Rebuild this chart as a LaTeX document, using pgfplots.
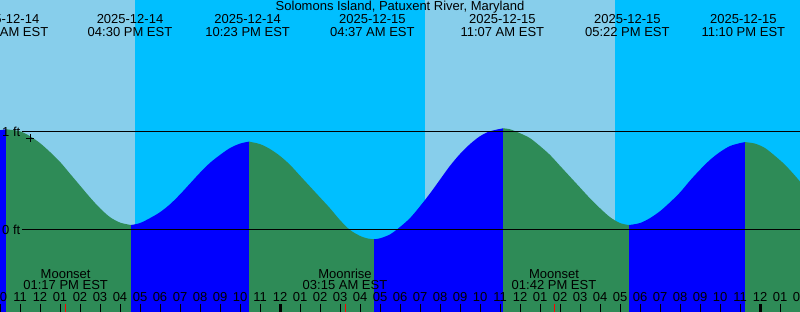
\documentclass[border=0pt]{standalone}
\usepackage{pgfplots}
\pgfplotsset{compat=1.18}
\usepackage{fontspec}
\setmainfont{Liberation Sans}
\definecolor{daysky}{RGB}{135,206,235}
\definecolor{nightsky}{RGB}{0,191,255}
\definecolor{ebb}{RGB}{46,139,87}
\definecolor{flood}{RGB}{0,0,255}
\newcommand\lbl{\fontsize{13}{15}\selectfont}
\begin{document}
\begin{tikzpicture}[font=\lbl]
\begin{axis}[
  at={(0,0)}, anchor=south west,
  width=800pt, height=312pt, scale only axis,
  xmin=10, xmax=50, ymin=-0.831, ymax=2.330,
  axis line style={draw=none},
  ytick=\empty,
  xtick={10,...,50},
  xticklabels={10,11,12,01,02,03,04,05,06,07,08,09,10,11,12,01,02,03,04,05,06,07,08,09,10,11,12,01,02,03,04,05,06,07,08,09,10,11,12,01,02},
  xtick pos=left,
  tick align=inside,
  major tick length=8pt,
  tick style={black, line width=1pt},
  xticklabel style={anchor=base, yshift=10.3pt, font=\lbl, inner sep=0pt},
  extra x ticks={24,48},
  extra x tick labels={},
  extra x tick style={tick style={black, line width=3pt}},
  axis on top,
  clip=false,
]
% sky: day / night (hours since 2025-12-14 00:00 EST)
\addplot[fill=daysky, draw=none] coordinates {(10,-0.831) (16.75,-0.831) (16.75,2.33) (10,2.33)} -- cycle;
\addplot[fill=nightsky, draw=none] coordinates {(16.75,-0.831) (31.25,-0.831) (31.25,2.33) (16.75,2.33)} -- cycle;
\addplot[fill=daysky, draw=none] coordinates {(31.25,-0.831) (40.75,-0.831) (40.75,2.33) (31.25,2.33)} -- cycle;
\addplot[fill=nightsky, draw=none] coordinates {(40.75,-0.831) (50,-0.831) (50,2.33) (40.75,2.33)} -- cycle;
% water level (ft): rising = blue, falling = green
\addplot[fill=flood, draw=none] coordinates {(10,1.01) (10.3,1.02)} -- (axis cs:10.3,-0.831) -- (axis cs:10,-0.831) -- cycle;
\addplot[fill=ebb, draw=none, smooth] coordinates {
(10.3,1.02) (11,1.00) (11.5,0.95) (12,0.88) (12.5,0.79) (13,0.69) (13.5,0.57) (14,0.45)
(14.5,0.33) (15,0.22) (15.5,0.13) (16,0.075) (16.55,0.05)}
 -- (axis cs:16.55,-0.831) -- (axis cs:10.3,-0.831) -- cycle;
\addplot[fill=flood, draw=none, smooth] coordinates {
(16.55,0.05) (17,0.07) (17.5,0.12) (18,0.18) (18.5,0.26) (19,0.36) (19.5,0.47) (20,0.58)
(20.5,0.68) (21,0.76) (21.5,0.83) (22,0.875) (22.45,0.895)}
 -- (axis cs:22.45,-0.831) -- (axis cs:16.55,-0.831) -- cycle;
\addplot[fill=ebb, draw=none, smooth] coordinates {
(22.45,0.895) (23,0.87) (23.5,0.82) (24,0.75) (24.5,0.66) (25,0.55) (25.5,0.44) (26,0.33)
(26.5,0.22) (27,0.10) (27.5,0.0) (28,-0.06) (28.35,-0.085) (28.7,-0.094)}
 -- (axis cs:28.7,-0.831) -- (axis cs:22.45,-0.831) -- cycle;
\addplot[fill=flood, draw=none, smooth] coordinates {
(28.7,-0.094) (29,-0.085) (29.5,-0.045) (30,0.03) (30.5,0.12) (31,0.24) (31.5,0.37) (32,0.51)
(32.5,0.65) (33,0.77) (33.5,0.87) (34,0.95) (34.5,1.00) (35.15,1.03)}
 -- (axis cs:35.15,-0.831) -- (axis cs:28.7,-0.831) -- cycle;
\addplot[fill=ebb, draw=none, smooth] coordinates {
(35.15,1.03) (35.5,1.02) (36,0.98) (36.5,0.93) (37,0.85) (37.5,0.76) (38,0.65) (38.5,0.54)
(39,0.43) (39.5,0.32) (40,0.22) (40.5,0.13) (41,0.07) (41.45,0.05)}
 -- (axis cs:41.45,-0.831) -- (axis cs:35.15,-0.831) -- cycle;
\addplot[fill=flood, draw=none, smooth] coordinates {
(41.45,0.05) (42,0.07) (42.5,0.12) (43,0.19) (43.5,0.28) (44,0.38) (44.5,0.50) (45,0.61)
(45.5,0.71) (46,0.79) (46.5,0.85) (47,0.88) (47.25,0.89)}
 -- (axis cs:47.25,-0.831) -- (axis cs:41.45,-0.831) -- cycle;
\addplot[fill=ebb, draw=none, smooth] coordinates {
(47.25,0.89) (47.75,0.875) (48.25,0.83) (48.75,0.75) (49.25,0.66) (49.75,0.55) (50,0.49)}
 -- (axis cs:50,-0.831) -- (axis cs:47.25,-0.831) -- cycle;
% reference lines
\addplot[black, line width=1pt] coordinates {(11.1,1) (50,1)};
\addplot[black, line width=1pt] coordinates {(11.1,0) (50,0)};
\node[anchor=base west, inner sep=0pt] at (axis cs:10.1,0.952) {1 ft};
\node[anchor=base west, inner sep=0pt] at (axis cs:10.1,-0.044) {0 ft};
% current time marker
\addplot[black, only marks, mark=+, mark size=4pt, line width=1pt] coordinates {(11.5,0.93)};
% moon event ticks
\draw[red, line width=1pt] (axis cs:13.283,-0.831) -- (axis cs:13.283,-0.75);
\draw[red, line width=1pt] (axis cs:27.25,-0.831) -- (axis cs:27.25,-0.75);
\draw[red, line width=1pt] (axis cs:37.7,-0.831) -- (axis cs:37.7,-0.75);
% title
\node[anchor=base, inner sep=0pt] at (axis cs:30,2.219) {Solomons Island, Patuxent River, Maryland};
% tide events
\node[anchor=base, inner sep=0pt] at (axis cs:10.3,2.087) {2025-12-14};
\node[anchor=base, inner sep=0pt] at (axis cs:10.3,1.958) {10:18 AM EST};
\node[anchor=base, inner sep=0pt] at (axis cs:16.5,2.087) {2025-12-14};
\node[anchor=base, inner sep=0pt] at (axis cs:16.5,1.958) {04:30 PM EST};
\node[anchor=base, inner sep=0pt] at (axis cs:22.383,2.087) {2025-12-14};
\node[anchor=base, inner sep=0pt] at (axis cs:22.383,1.958) {10:23 PM EST};
\node[anchor=base, inner sep=0pt] at (axis cs:28.617,2.087) {2025-12-15};
\node[anchor=base, inner sep=0pt] at (axis cs:28.617,1.958) {04:37 AM EST};
\node[anchor=base, inner sep=0pt] at (axis cs:35.117,2.087) {2025-12-15};
\node[anchor=base, inner sep=0pt] at (axis cs:35.117,1.958) {11:07 AM EST};
\node[anchor=base, inner sep=0pt] at (axis cs:41.367,2.087) {2025-12-15};
\node[anchor=base, inner sep=0pt] at (axis cs:41.367,1.958) {05:22 PM EST};
\node[anchor=base, inner sep=0pt] at (axis cs:47.167,2.087) {2025-12-15};
\node[anchor=base, inner sep=0pt] at (axis cs:47.167,1.958) {11:10 PM EST};
% moon events
\node[anchor=base, inner sep=0pt] at (axis cs:13.283,-0.489) {Moonset};
\node[anchor=base, inner sep=0pt] at (axis cs:13.283,-0.608) {01:17 PM EST};
\node[anchor=base, inner sep=0pt] at (axis cs:27.25,-0.489) {Moonrise};
\node[anchor=base, inner sep=0pt] at (axis cs:27.25,-0.608) {03:15 AM EST};
\node[anchor=base, inner sep=0pt] at (axis cs:37.7,-0.489) {Moonset};
\node[anchor=base, inner sep=0pt] at (axis cs:37.7,-0.608) {01:42 PM EST};
\end{axis}
\pgfresetboundingbox
\path[use as bounding box] (0,0) rectangle (800pt,312pt);
\end{tikzpicture}
\end{document}
